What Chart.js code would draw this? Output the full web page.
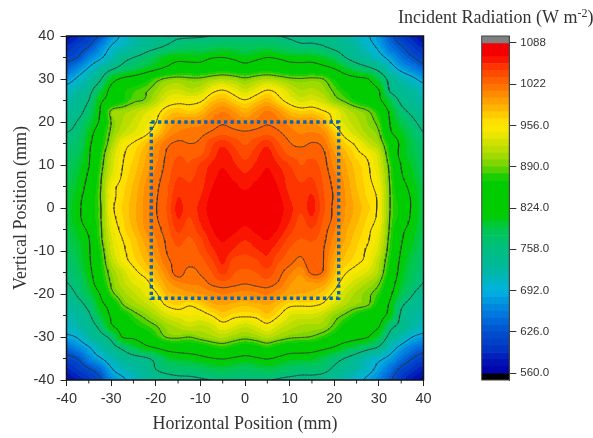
<!DOCTYPE html>
<html>
<head>
<meta charset="utf-8">
<title>Incident Radiation</title>
<script src="https://cdn.jsdelivr.net/npm/chart.js@4"></script>
<style>
    html, body { margin: 0; padding: 0; background: #fff; }
    #mapBox { position: absolute; left: 0; top: 0; width: 593px; height: 438px; }
    #barBox { position: absolute; left: 470px; top: 0; width: 123px; height: 438px; }
    canvas { filter: blur(0.35px); }
</style>
</head>
<body>
<div id="mapBox"><canvas id="mapChart"></canvas></div>
<div id="barBox"><canvas id="barChart"></canvas></div>
<script>
// grid positions in mm
const xPositions = [-40, -37.5, -35, -32.5, -30, -27.5, -25, -22.5, -20, -17.5, -15, -12.5, -10, -7.5, -5, -2.5, 0, 2.5, 5, 7.5, 10, 12.5, 15, 17.5, 20, 22.5, 25, 27.5, 30, 32.5, 35, 37.5, 40];
const yPositions = [40, 37.5, 35, 32.5, 30, 27.5, 25, 22.5, 20, 17.5, 15, 12.5, 10, 7.5, 5, 2.5, 0, -2.5, -5, -7.5, -10, -12.5, -15, -17.5, -20, -22.5, -25, -27.5, -30, -32.5, -35, -37.5, -40];

// incident radiation (W m-2), one row per y position
const radiation = [
    [575, 590, 608, 630, 672, 698, 720, 738, 748, 752, 755, 755, 756, 758, 760, 762, 762, 762, 760, 758, 755, 752, 752, 752, 748, 730, 712, 695, 672, 635, 605, 588, 570],
    [595, 610, 626, 660, 695, 712, 728, 744, 752, 762, 772, 778, 778, 782, 788, 786, 780, 784, 788, 780, 772, 765, 765, 760, 750, 740, 725, 705, 685, 650, 628, 605, 590],
    [615, 626, 660, 685, 715, 745, 758, 770, 790, 808, 815, 812, 812, 822, 824, 818, 808, 816, 824, 820, 812, 810, 810, 800, 785, 758, 740, 725, 705, 680, 650, 628, 610],
    [640, 665, 695, 725, 750, 770, 785, 800, 815, 830, 840, 842, 842, 850, 855, 850, 842, 850, 856, 848, 842, 840, 842, 835, 822, 800, 780, 765, 745, 710, 680, 660, 640],
    [675, 698, 725, 752, 805, 830, 840, 855, 880, 895, 900, 895, 895, 905, 912, 905, 895, 905, 912, 905, 895, 892, 895, 890, 865, 842, 832, 825, 790, 745, 720, 700, 680],
    [705, 722, 745, 785, 835, 862, 875, 885, 900, 920, 925, 915, 920, 945, 955, 942, 925, 940, 955, 945, 925, 912, 915, 905, 885, 865, 850, 835, 824, 752, 738, 725, 708],
    [720, 740, 758, 815, 840, 865, 885, 892, 915, 940, 948, 948, 952, 975, 985, 970, 958, 972, 985, 965, 945, 930, 935, 925, 900, 885, 865, 850, 832, 790, 750, 735, 720],
    [735, 745, 775, 824, 895, 905, 915, 930, 945, 968, 975, 968, 978, 1000, 1010, 1000, 985, 1000, 1012, 1000, 978, 968, 970, 958, 945, 920, 905, 892, 865, 815, 770, 750, 735],
    [748, 760, 790, 830, 890, 912, 925, 940, 955, 985, 1000, 1003, 1005, 1015, 1020, 1015, 1008, 1015, 1020, 1015, 1005, 998, 1000, 985, 950, 930, 915, 900, 880, 822, 790, 765, 748],
    [758, 768, 805, 850, 895, 920, 935, 948, 970, 1000, 1012, 1015, 1018, 1024, 1029, 1026, 1024, 1026, 1029, 1024, 1016, 1010, 1012, 1005, 975, 945, 925, 908, 892, 830, 805, 780, 758],
    [765, 775, 815, 858, 905, 945, 958, 975, 1000, 1018, 1025, 1022, 1025, 1041, 1051, 1041, 1032, 1041, 1051, 1034, 1023, 1018, 1023, 1018, 990, 968, 950, 925, 905, 860, 815, 790, 768],
    [772, 785, 820, 868, 920, 952, 965, 985, 1005, 1024, 1032, 1030, 1031, 1047, 1061, 1051, 1039, 1051, 1061, 1044, 1031, 1030, 1030, 1025, 1002, 982, 962, 950, 925, 868, 812, 795, 775],
    [778, 795, 822, 875, 925, 955, 970, 990, 1010, 1026, 1037, 1034, 1046, 1057, 1065, 1057, 1049, 1057, 1065, 1055, 1044, 1033, 1037, 1028, 1008, 990, 972, 958, 932, 880, 822, 800, 780],
    [785, 800, 830, 882, 932, 958, 975, 995, 1015, 1028, 1043, 1041, 1049, 1061, 1069, 1063, 1057, 1063, 1069, 1061, 1049, 1041, 1043, 1031, 1014, 995, 975, 960, 938, 885, 828, 805, 785],
    [790, 805, 838, 885, 945, 962, 980, 1000, 1018, 1031, 1049, 1045, 1051, 1065, 1073, 1069, 1064, 1069, 1073, 1065, 1051, 1045, 1049, 1033, 1018, 998, 978, 962, 945, 888, 840, 812, 790],
    [793, 812, 845, 888, 945, 965, 983, 1002, 1020, 1032, 1055, 1045, 1055, 1069, 1075, 1072, 1069, 1072, 1075, 1069, 1055, 1045, 1057, 1035, 1020, 1000, 982, 965, 950, 890, 850, 818, 793],
    [795, 815, 850, 885, 948, 968, 985, 1003, 1021, 1034, 1059, 1047, 1059, 1071, 1076, 1074, 1071, 1074, 1076, 1071, 1059, 1047, 1059, 1037, 1018, 1000, 985, 970, 950, 890, 860, 818, 795],
    [795, 815, 848, 885, 945, 965, 985, 1003, 1020, 1032, 1055, 1043, 1057, 1069, 1075, 1072, 1069, 1072, 1075, 1069, 1057, 1041, 1053, 1033, 1018, 998, 982, 965, 948, 888, 855, 815, 795],
    [790, 808, 832, 882, 938, 962, 980, 1000, 1016, 1029, 1047, 1037, 1051, 1065, 1073, 1069, 1064, 1069, 1072, 1065, 1049, 1037, 1043, 1029, 1012, 992, 976, 960, 942, 885, 835, 810, 790],
    [785, 800, 822, 880, 930, 955, 972, 992, 1010, 1025, 1037, 1031, 1041, 1059, 1067, 1061, 1055, 1061, 1066, 1055, 1039, 1032, 1034, 1026, 1006, 988, 970, 958, 935, 880, 828, 805, 785],
    [780, 795, 820, 870, 925, 950, 968, 985, 1005, 1023, 1031, 1027, 1035, 1051, 1061, 1053, 1047, 1053, 1057, 1045, 1031, 1025, 1028, 1023, 1000, 980, 966, 952, 928, 875, 822, 798, 780],
    [773, 790, 818, 865, 915, 945, 962, 978, 998, 1018, 1027, 1028, 1029, 1041, 1057, 1039, 1037, 1041, 1052, 1034, 1026, 1018, 1032, 1023, 990, 972, 960, 948, 915, 868, 815, 790, 773],
    [765, 782, 812, 860, 900, 925, 948, 965, 985, 1008, 1030, 1015, 1024, 1032, 1047, 1034, 1031, 1033, 1039, 1027, 1014, 1003, 1026, 1020, 982, 958, 945, 932, 908, 860, 810, 785, 765],
    [757, 772, 802, 850, 893, 918, 935, 945, 972, 995, 1008, 1012, 1014, 1025, 1029, 1026, 1023, 1026, 1028, 1020, 1002, 994, 998, 995, 968, 942, 925, 910, 892, 845, 802, 778, 757],
    [745, 762, 790, 825, 880, 905, 920, 935, 952, 982, 990, 995, 1000, 1005, 1012, 1008, 1005, 1008, 1012, 1002, 992, 988, 985, 972, 950, 925, 908, 895, 875, 832, 790, 760, 742],
    [730, 745, 770, 812, 840, 888, 905, 918, 935, 960, 968, 958, 968, 985, 990, 985, 980, 985, 990, 978, 962, 960, 960, 952, 930, 912, 900, 892, 860, 818, 765, 745, 730],
    [718, 730, 752, 795, 828, 855, 880, 895, 912, 930, 940, 945, 945, 956, 972, 962, 960, 962, 975, 958, 935, 930, 930, 920, 900, 885, 865, 848, 838, 810, 752, 732, 718],
    [705, 720, 740, 768, 818, 838, 860, 875, 888, 905, 915, 925, 920, 928, 945, 935, 925, 935, 948, 930, 918, 910, 908, 905, 885, 860, 848, 835, 826, 770, 748, 725, 708],
    [685, 695, 725, 745, 768, 825, 830, 845, 870, 892, 895, 890, 900, 908, 915, 905, 898, 905, 915, 905, 895, 892, 888, 875, 858, 845, 835, 825, 795, 745, 720, 692, 680],
    [645, 665, 688, 720, 742, 765, 790, 812, 825, 838, 842, 845, 850, 865, 872, 862, 850, 858, 870, 855, 845, 842, 840, 832, 820, 800, 785, 770, 752, 712, 680, 655, 640],
    [615, 626, 662, 688, 712, 735, 745, 752, 768, 795, 805, 808, 815, 822, 826, 820, 815, 820, 826, 818, 808, 808, 805, 790, 772, 756, 740, 715, 700, 680, 650, 625, 610],
    [590, 605, 622, 645, 688, 710, 725, 740, 758, 768, 772, 775, 780, 788, 792, 786, 780, 786, 792, 786, 778, 772, 772, 768, 752, 738, 722, 705, 680, 650, 618, 600, 585],
    [570, 585, 600, 620, 665, 685, 705, 725, 740, 748, 752, 752, 755, 758, 762, 762, 762, 762, 760, 755, 752, 750, 750, 745, 735, 718, 700, 685, 660, 630, 600, 580, 565]
];

// contour levels and the dotted square marked on the map
const contourLevels = [1022, 956, 890, 824, 758, 692, 626];
const boxX = [-21, 21, 21, -21, -21];
const boxY = [20, 20, -21, -21, 20];

// axis ticks
const axisTicks = [-40, -30, -20, -10, 0, 10, 20, 30, 40];
const minorTicks = [-35, -25, -15, -5, 5, 15, 25, 35];

// colour bar
const barTicks = [1088, 1022, 956, 890, 824, 758, 692, 626, 560];
const barTickLabels = ['1088', '1022', '956.0', '890.0', '824.0', '758.0', '692.0', '626.0', '560.0'];
const barBandEdges = [560, 571, 582, 593, 604, 615, 626, 637, 648, 659, 670, 681, 692, 703, 714, 725, 736, 747, 758, 769, 780, 791, 802, 813, 824, 835, 846, 857, 868, 879, 890, 901, 912, 923, 934, 945, 956, 967, 978, 989, 1000, 1011, 1022, 1033, 1044, 1055, 1066, 1077, 1088];

// palette, value -> colour
const stopValues = [560, 582, 600, 626, 648, 670, 692, 704, 724, 758, 790, 812, 868, 890, 912, 934, 945, 956, 967, 978, 989, 1000, 1011, 1022, 1033, 1044, 1055, 1066, 1088];
const stopColors = ['#0000a8', '#0018b8', '#0038c4', '#0050d0', '#0070dc', '#0090e0', '#00b4e0', '#00b4c8', '#00b8a0', '#00be80', '#00c650', '#00cc00', '#00cc00', '#70d400', '#b0dc00', '#dce400', '#f5e800', '#ffe600', '#ffd500', '#ffc000', '#ffaa00', '#ff9500', '#ff8000', '#ff6a00', '#ff5500', '#ff4000', '#ff2a00', '#f50000', '#f50000'];

const SERIF = '"Liberation Serif", "Times New Roman", serif';
const SANS = '"Liberation Sans", Arial, sans-serif';
const TEXT_COLOR = '#333';
const BAND_STEP = 11;
const CONTOUR_SUBDIV = 4;

function hexToRgb(hex) {
    return [parseInt(hex.slice(1, 3), 16), parseInt(hex.slice(3, 5), 16), parseInt(hex.slice(5, 7), 16)];
}

const stopRgb = stopColors.map(hexToRgb);

// colour of the filled band a value falls into
function bandColor(value) {
    const band = Math.min(Math.floor((value - 560) / BAND_STEP), 47);
    const mid = 560 + (Math.max(band, 0) + 0.5) * BAND_STEP;
    let i = 0;
    while (i < stopValues.length - 2 && mid > stopValues[i + 1]) i++;
    const t = (mid - stopValues[i]) / (stopValues[i + 1] - stopValues[i]);
    const c = stopRgb[i].map((v, k) => Math.round(v + (stopRgb[i + 1][k] - v) * t));
    return 'rgb(' + c.join(',') + ')';
}

function cubic(a, b, c, d, t) {
    return b + 0.5 * t * (c - a + t * (2 * a - 5 * b + 4 * c - d + t * (3 * (b - c) + d - a)));
}

function cell(j, i) {
    const jj = Math.min(Math.max(j, 0), yPositions.length - 1);
    const ii = Math.min(Math.max(i, 0), xPositions.length - 1);
    return radiation[jj][ii];
}

// smooth surface through the read values
function fieldAt(x, y) {
    const fx = Math.min(Math.max((x + 40) / 2.5, 0), xPositions.length - 1.001);
    const fy = Math.min(Math.max((40 - y) / 2.5, 0), yPositions.length - 1.001);
    const i = Math.floor(fx);
    const j = Math.floor(fy);
    const row = jj => cubic(cell(jj, i - 1), cell(jj, i), cell(jj, i + 1), cell(jj, i + 2), fx - i);
    return cubic(row(j - 1), row(j), row(j + 1), row(j + 2), fy - j);
}

const lattice = [];
for (let j = 0; j <= (yPositions.length - 1) * CONTOUR_SUBDIV; j++) {
    const row = [];
    for (let i = 0; i <= (xPositions.length - 1) * CONTOUR_SUBDIV; i++) {
        row.push(fieldAt(-40 + i * 2.5 / CONTOUR_SUBDIV, 40 - j * 2.5 / CONTOUR_SUBDIV));
    }
    lattice.push(row);
}

// marching squares on the finer lattice, segments separated by gaps
function contourSegments(level) {
    const out = [];
    const step = 2.5 / CONTOUR_SUBDIV;
    const n = (xPositions.length - 1) * CONTOUR_SUBDIV;
    const cross = (x1, y1, v1, x2, y2, v2) => {
        const t = (level - v1) / (v2 - v1);
        return { x: x1 + (x2 - x1) * t, y: y1 + (y2 - y1) * t };
    };
    for (let j = 0; j < n; j++) {
        const y0 = 40 - j * step, y1 = y0 - step;
        for (let i = 0; i < n; i++) {
            const x0 = -40 + i * step, x1 = x0 + step;
            const a = lattice[j][i], b = lattice[j][i + 1];
            const c = lattice[j + 1][i + 1], d = lattice[j + 1][i];
            const hits = [];
            if ((a >= level) !== (b >= level)) hits.push(cross(x0, y0, a, x1, y0, b));
            if ((b >= level) !== (c >= level)) hits.push(cross(x1, y0, b, x1, y1, c));
            if ((c >= level) !== (d >= level)) hits.push(cross(x1, y1, c, x0, y1, d));
            if ((d >= level) !== (a >= level)) hits.push(cross(x0, y1, d, x0, y0, a));
            for (let k = 0; k + 1 < hits.length; k += 2) {
                out.push(hits[k], hits[k + 1], { x: NaN, y: NaN });
            }
        }
    }
    return out;
}

const gridPoints = [];
yPositions.forEach((y, j) => {
    xPositions.forEach((x, i) => {
        gridPoints.push({ x: x, y: y, v: radiation[j][i] });
    });
});

const contourDatasets = contourLevels.map(level => ({
    label: 'Contour ' + level,
    data: contourSegments(level),
    showLine: true,
    spanGaps: false,
    borderColor: 'rgba(50,55,50,0.8)',
    borderWidth: 0.9,
    borderCapStyle: 'round',
    pointRadius: 0,
    pointHoverRadius: 0
}));

const FIELD_INDEX = contourDatasets.length + 1;

// refines the grid cells into smooth filled bands, right after the field dataset is drawn
const bandFillPlugin = {
    id: 'bandFill',
    afterDatasetDraw(chart, args) {
        if (args.index !== FIELD_INDEX) return;
        const ctx = chart.ctx;
        const area = chart.chartArea;
        const xs = chart.scales.x;
        const ys = chart.scales.y;
        ctx.save();
        ctx.beginPath();
        ctx.rect(area.left, area.top, area.width, area.height);
        ctx.clip();
        for (let py = Math.floor(area.top); py < area.bottom; py++) {
            const yVal = ys.getValueForPixel(py + 0.5);
            let runStart = Math.floor(area.left);
            let runColor = null;
            for (let px = runStart; px <= Math.ceil(area.right); px++) {
                const color = bandColor(fieldAt(xs.getValueForPixel(px + 0.5), yVal));
                if (color !== runColor) {
                    if (runColor) {
                        ctx.fillStyle = runColor;
                        ctx.fillRect(runStart, py, px - runStart, 1);
                    }
                    runColor = color;
                    runStart = px;
                }
            }
            ctx.fillStyle = runColor;
            ctx.fillRect(runStart, py, Math.ceil(area.right) - runStart + 1, 1);
        }
        ctx.restore();
    }
};

// frame, short minor ticks and the legend heading
const framePlugin = {
    id: 'frame',
    afterDraw(chart) {
        const ctx = chart.ctx;
        const area = chart.chartArea;
        ctx.save();
        ctx.strokeStyle = '#111';
        ctx.lineWidth = 1.5;
        ctx.strokeRect(area.left, area.top, area.width, area.height);
        ctx.lineWidth = 1;
        ctx.strokeStyle = '#222';
        ctx.beginPath();
        minorTicks.forEach(v => {
            const px = chart.scales.x.getPixelForValue(v);
            ctx.moveTo(px, area.bottom);
            ctx.lineTo(px, area.bottom + 3.5);
            const py = chart.scales.y.getPixelForValue(v);
            ctx.moveTo(area.left, py);
            ctx.lineTo(area.left - 3.5, py);
        });
        ctx.stroke();

        ctx.fillStyle = TEXT_COLOR;
        ctx.textBaseline = 'alphabetic';
        ctx.font = '18px ' + SERIF;
        const head = 'Incident Radiation (W m';
        ctx.fillText(head, 398, 23);
        const w = ctx.measureText(head).width;
        ctx.font = '12px ' + SERIF;
        ctx.fillText('-2', 398 + w, 17);
        const w2 = ctx.measureText('-2').width;
        ctx.font = '18px ' + SERIF;
        ctx.fillText(')', 398 + w + w2, 23);
        ctx.restore();
    }
};

function axisOptions(titleText, tickPadding, fixSize) {
    return {
        type: 'linear',
        min: -40,
        max: 40,
        afterBuildTicks(scale) {
            scale.ticks = axisTicks.map(v => ({ value: v }));
        },
        afterFit: fixSize,
        border: { display: false },
        grid: { drawOnChartArea: false, drawTicks: true, tickLength: 6, tickColor: '#222', tickWidth: 1 },
        ticks: {
            padding: tickPadding,
            color: TEXT_COLOR,
            maxRotation: 0,
            autoSkip: false,
            font: { family: SANS, size: 14.5 }
        },
        title: {
            display: true,
            text: titleText,
            color: TEXT_COLOR,
            font: { family: SERIF, size: 18 },
            padding: { top: 10, bottom: 3 }
        }
    };
}

new Chart(document.getElementById('mapChart'), {
    type: 'scatter',
    data: {
        datasets: [
            {
                label: 'Marked square',
                data: boxX.map((x, i) => ({ x: x, y: boxY[i] })),
                showLine: true,
                borderColor: '#0b62b5',
                borderWidth: 3.4,
                borderDash: [3.4, 3.2],
                pointRadius: 0,
                pointHoverRadius: 0
            },
            ...contourDatasets,
            {
                label: 'Incident radiation',
                data: gridPoints,
                pointStyle: 'rect',
                pointRadius: 9,
                pointBorderWidth: 0,
                backgroundColor: ctx => bandColor(ctx.raw ? ctx.raw.v : 560)
            }
        ]
    },
    options: {
        responsive: true,
        maintainAspectRatio: false,
        animation: false,
        events: [],
        layout: { padding: { top: 36, right: 169.5, left: 0, bottom: 0 } },
        plugins: { legend: { display: false }, tooltip: { enabled: false } },
        scales: {
            x: axisOptions('Horizontal Position (mm)', 4, scale => { scale.height = 58; }),
            y: axisOptions('Vertical Position (mm)', 6, scale => { scale.width = 66.5; })
        }
    },
    plugins: [bandFillPlugin, framePlugin]
});

// colour bar: one floating bar per band plus the two end caps
const bandDatasets = barBandEdges.slice(0, -1).map((lo, i) => ({
    label: lo + '-' + barBandEdges[i + 1],
    data: [[lo, barBandEdges[i + 1]]],
    backgroundColor: bandColor(lo + 1),
    barPercentage: 1,
    categoryPercentage: 1,
    grouped: false
}));

new Chart(document.getElementById('barChart'), {
    type: 'bar',
    data: {
        labels: ['Incident Radiation'],
        datasets: [
            { label: 'over', data: [[1088, 1099]], backgroundColor: '#808080', barPercentage: 1, categoryPercentage: 1, grouped: false },
            ...bandDatasets,
            { label: 'under', data: [[549, 560]], backgroundColor: '#000000', barPercentage: 1, categoryPercentage: 1, grouped: false }
        ]
    },
    options: {
        responsive: true,
        maintainAspectRatio: false,
        animation: false,
        events: [],
        layout: { padding: { top: 36, bottom: 58, left: 11.7, right: 0 } },
        plugins: { legend: { display: false }, tooltip: { enabled: false } },
        scales: {
            x: { display: false },
            y: {
                position: 'right',
                min: 549,
                max: 1099,
                afterBuildTicks(scale) {
                    scale.ticks = barTicks.map(v => ({ value: v }));
                },
                afterFit(scale) { scale.width = 83.7; },
                border: { display: true, color: '#444', width: 1 },
                grid: { drawOnChartArea: false, tickLength: 7, tickColor: '#333' },
                ticks: {
                    padding: 4,
                    color: TEXT_COLOR,
                    autoSkip: false,
                    font: { family: SANS, size: 11.5 },
                    callback: value => barTickLabels[barTicks.indexOf(value)]
                }
            }
        }
    },
    plugins: [{
        id: 'barFrame',
        afterDraw(chart) {
            const a = chart.chartArea;
            chart.ctx.save();
            chart.ctx.strokeStyle = '#444';
            chart.ctx.lineWidth = 1;
            chart.ctx.strokeRect(a.left, a.top, a.width, a.height);
            chart.ctx.restore();
        }
    }]
});
</script>
</body>
</html>
